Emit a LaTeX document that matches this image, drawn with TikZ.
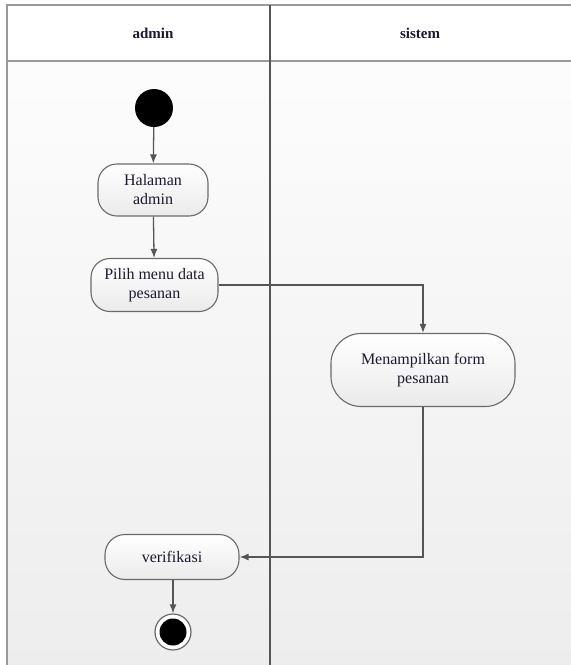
\documentclass[tikz,border=0pt]{standalone}
\usepackage{fontspec}
\setmainfont{Liberation Serif}
\usetikzlibrary{arrows.meta}
\definecolor{lanegray}{HTML}{9A9A9A}
\definecolor{linegray}{HTML}{555555}
\definecolor{boxline}{HTML}{6A6A6A}
\definecolor{txt}{HTML}{1A1A2E}

\begin{document}
\begin{tikzpicture}[x=1pt,y=1pt]
\tikzset{
  action/.style={draw=boxline, line width=1.1pt, rounded corners=19pt, top color=white, bottom color=black!8,
    align=center, text=txt, font=\fontsize{16}{19}\selectfont, inner sep=0pt},
  flow/.style={draw=linegray, line width=1.3pt, -{Latex[length=9pt,width=7pt]}},
  lanehead/.style={font=\bfseries\fontsize{15}{18}\selectfont, text=txt}
}
\useasboundingbox (0,0) rectangle (571,-665);
\fill [top color=black!1, bottom color=black!7] (7,-61) rectangle (571,-665);
\fill [white] (7,-5) rectangle (571,-61);
\draw [lanegray, line width=2pt] (7,-665) -- (7,-5) -- (571,-5);
\draw [lanegray, line width=2.5pt] (7,-61) -- (571,-61);
\draw [linegray, line width=1.2pt] (270,-5) -- (270,-665);
\node [lanehead] (admin) at (153,-33) {admin};
\node [lanehead] (sistem) at (420,-33) {sistem};
\node [circle, fill=black, minimum size=38pt, inner sep=0pt] (start) at (154,-108) {};
\node [action, minimum width=110pt, minimum height=52pt] (halaman) at (153,-190) {Halaman\\admin};
\node [action, minimum width=127pt, minimum height=53pt] (pilih) at (154.5,-285) {Pilih menu data\\pesanan};
\node [action, rounded corners=30pt, minimum width=184pt, minimum height=73pt] (tampil) at (423,-370) {Menampilkan form\\pesanan};
\node [action, rounded corners=20pt, minimum width=134pt, minimum height=45pt] (verif) at (172,-557) {verifikasi};
\node [circle, draw=boxline, line width=1.2pt, fill=white, minimum size=36pt, inner sep=0pt] (finish) at (173,-632) {};
\fill [black] (finish) circle (13.5);
\draw [flow] (start) -- (halaman);
\draw [flow] (halaman) -- (pilih);
\draw [flow] (pilih.east) -| (tampil.north);
\draw [flow] (tampil.south) |- (verif.east);
\draw [flow] (verif.south -| finish) -- (finish);
\end{tikzpicture}
\end{document}
